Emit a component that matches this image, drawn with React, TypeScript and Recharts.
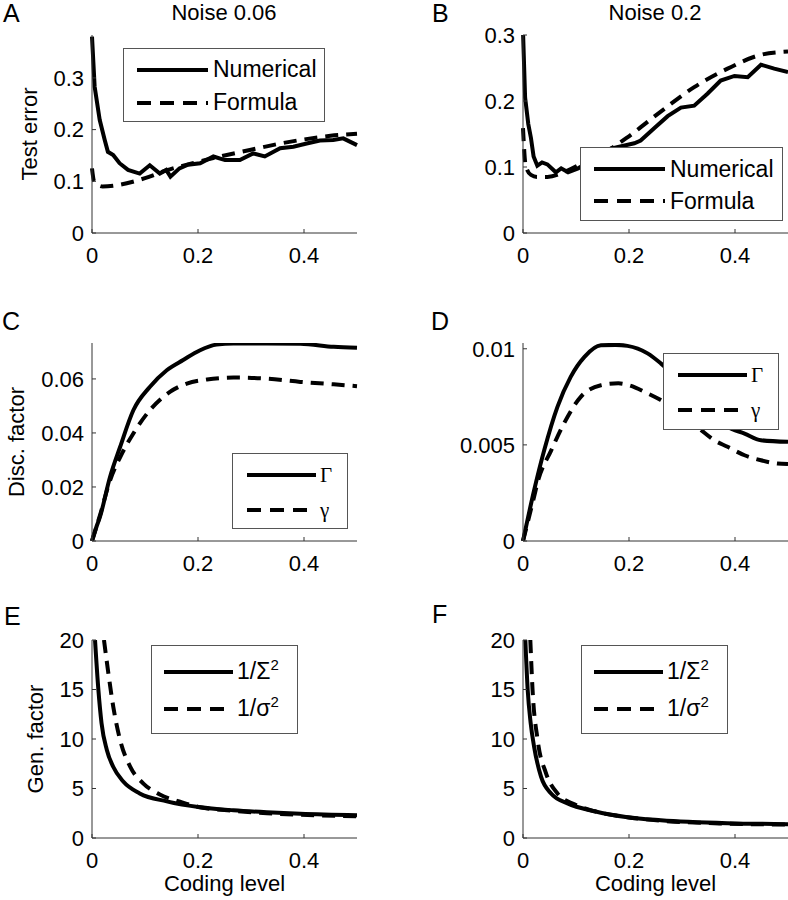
import React from 'react';
import { LineChart, Line, XAxis, YAxis, Legend, Label } from 'recharts';

const FONT = '"Liberation Sans", Arial, Helvetica, sans-serif';
const SERIF = '"Liberation Serif", "Times New Roman", serif';

// tick labels
const xTicks = [0, 0.2, 0.4];
const errTicks = [0, 0.1, 0.2, 0.3];
const discTicksC = [0, 0.02, 0.04, 0.06];
const discTicksD = [0, 0.005, 0.01];
const genTicks = [0, 5, 10, 15, 20];

// A: noise 0.06, test error
const aNumX = [0, 0.005, 0.0145, 0.024, 0.03, 0.04, 0.052, 0.068, 0.09, 0.109, 0.128, 0.14, 0.148, 0.165, 0.181, 0.204, 0.229, 0.251, 0.279, 0.304, 0.326, 0.355, 0.38, 0.405, 0.43, 0.455, 0.474, 0.5];
const aNumY = [0.38, 0.283, 0.219, 0.18, 0.157, 0.151, 0.135, 0.122, 0.115, 0.131, 0.115, 0.122, 0.109, 0.125, 0.132, 0.135, 0.148, 0.141, 0.141, 0.154, 0.148, 0.164, 0.167, 0.173, 0.179, 0.18, 0.183, 0.17];
const aForX = [0, 0.004, 0.02, 0.05, 0.08, 0.1, 0.14, 0.19, 0.25, 0.3, 0.35, 0.4, 0.45, 0.5];
const aForY = [0.125, 0.1, 0.09, 0.093, 0.1, 0.106, 0.121, 0.135, 0.15, 0.161, 0.172, 0.181, 0.188, 0.192];

// B: noise 0.2, test error
const bNumX = [0, 0.004, 0.01, 0.015, 0.02, 0.027, 0.036, 0.046, 0.062, 0.072, 0.085, 0.104, 0.13, 0.166, 0.21, 0.222, 0.248, 0.273, 0.298, 0.323, 0.348, 0.373, 0.399, 0.424, 0.449, 0.474, 0.5];
const bNumY = [0.306, 0.205, 0.165, 0.144, 0.116, 0.102, 0.107, 0.104, 0.092, 0.098, 0.092, 0.098, 0.11, 0.128, 0.136, 0.14, 0.159, 0.177, 0.19, 0.193, 0.211, 0.231, 0.238, 0.236, 0.255, 0.249, 0.244];
const bForX = [0, 0.005, 0.015, 0.027, 0.046, 0.085, 0.11, 0.166, 0.197, 0.26, 0.323, 0.386, 0.449, 0.5];
const bForY = [0.159, 0.102, 0.088, 0.085, 0.085, 0.095, 0.105, 0.128, 0.145, 0.184, 0.221, 0.249, 0.27, 0.275];

// C: discrimination factor, noise 0.06
const cBigX = [0, 0.008, 0.015, 0.034, 0.053, 0.078, 0.109, 0.141, 0.172, 0.204, 0.235, 0.267, 0.33, 0.393, 0.456, 0.5];
const cBigY = [0, 0.005, 0.0089, 0.0237, 0.0348, 0.0484, 0.057, 0.0632, 0.067, 0.0706, 0.0727, 0.0731, 0.0731, 0.073, 0.0719, 0.0715];
const cSmallX = [0, 0.015, 0.034, 0.053, 0.078, 0.109, 0.147, 0.179, 0.217, 0.267, 0.33, 0.393, 0.456, 0.5];
const cSmallY = [0, 0.0095, 0.0224, 0.031, 0.0398, 0.0484, 0.0552, 0.0583, 0.0598, 0.0605, 0.0601, 0.0589, 0.058, 0.0573];

// D: discrimination factor, noise 0.2
const dBigX = [0, 0.021, 0.04, 0.065, 0.09, 0.116, 0.147, 0.175, 0.197, 0.235, 0.26, 0.3, 0.34, 0.386, 0.418, 0.449, 0.5];
const dBigY = [0, 0.00264, 0.00472, 0.00698, 0.00854, 0.00958, 0.01018, 0.0102, 0.01015, 0.00976, 0.00924, 0.0082, 0.0071, 0.00594, 0.00559, 0.00524, 0.00516];
const dSmallX = [0, 0.02, 0.028, 0.053, 0.077, 0.109, 0.147, 0.18, 0.2, 0.235, 0.26, 0.3, 0.336, 0.361, 0.386, 0.418, 0.449, 0.48, 0.5];
const dSmallY = [0, 0.0022, 0.0031, 0.0047, 0.0061, 0.0075, 0.0081, 0.0082, 0.0081, 0.00768, 0.00733, 0.0066, 0.00577, 0.00524, 0.0049, 0.00446, 0.0042, 0.00403, 0.004];

// E: generalization factor, noise 0.06
const eBigX = [0.0057, 0.012, 0.018, 0.028, 0.04, 0.059, 0.09, 0.141, 0.204, 0.267, 0.33, 0.393, 0.5];
const eBigY = [20, 15, 11.6, 8.9, 7.2, 5.7, 4.5, 3.7, 3.1, 2.8, 2.6, 2.45, 2.3];
const eSmallX = [0.0226, 0.031, 0.04, 0.053, 0.072, 0.097, 0.128, 0.17, 0.204, 0.267, 0.33, 0.393, 0.5];
const eSmallY = [20, 16.6, 13.3, 9.9, 7.2, 5.5, 4.4, 3.6, 3.1, 2.75, 2.5, 2.35, 2.2];

// F: generalization factor, noise 0.2
const fBigX = [0.0044, 0.0088, 0.0145, 0.021, 0.034, 0.053, 0.084, 0.135, 0.197, 0.26, 0.386, 0.5];
const fBigY = [20, 15, 11.6, 9.2, 6.2, 4.5, 3.5, 2.7, 2.1, 1.8, 1.5, 1.4];
const fSmallX = [0.0138, 0.018, 0.0276, 0.043, 0.065, 0.097, 0.135, 0.197, 0.26, 0.386, 0.5];
const fSmallY = [20, 15, 9.9, 6.6, 4.5, 3.4, 2.7, 2.1, 1.75, 1.45, 1.35];

const zip = (xs: number[], ys: number[]) => xs.map((x, i) => ({ x, y: ys[i] }));

const sq = (s: string) => (
  <>
    {s}
    <span style={{ fontSize: 15, position: 'relative', top: -9 }}>2</span>
  </>
);
const greek = (s: string) => <span style={{ fontFamily: SERIF, fontSize: 21 }}>{s}</span>;

type Row = { label: React.ReactNode; dashed: boolean };

function LegendBox({ rows, padTop, rowH, padLeft, lineLen, gap }: any) {
  return (
    <div
      style={{
        boxSizing: 'border-box',
        border: '1px solid #555',
        background: '#fff',
        height: '100%',
        paddingTop: padTop,
        fontFamily: FONT,
        fontSize: 23,
        color: '#000',
      }}
    >
      {rows.map((r: Row, i: number) => (
        <div key={i} style={{ display: 'flex', alignItems: 'center', height: rowH, paddingLeft: padLeft }}>
          <svg width={lineLen} height={6} style={{ marginRight: gap, flex: 'none' }}>
            <line x1={0} y1={3} x2={lineLen} y2={3} stroke="#000" strokeWidth={4} strokeDasharray={r.dashed ? '14 9' : undefined} />
          </svg>
          <span style={{ lineHeight: 1, whiteSpace: 'nowrap' }}>{r.label}</span>
        </div>
      ))}
    </div>
  );
}

type Series = { data: { x: number; y: number }[]; dashed: boolean; smooth: boolean };

function Panel(p: any) {
  const tickStyle = { fontSize: 22, fontFamily: FONT, fill: '#000' };
  return (
    <div style={{ position: 'absolute', left: p.left, top: p.top }}>
      <LineChart width={394} height={p.height} margin={{ top: p.plotTop, right: p.right, bottom: 0, left: 0 }}>
        <XAxis
          dataKey="x"
          type="number"
          domain={[0, 0.5]}
          ticks={xTicks}
          interval={0}
          height={p.xHeight}
          tickSize={-4}
          tickMargin={18}
          tick={tickStyle}
          axisLine={{ stroke: '#333' }}
          tickLine={{ stroke: '#333' }}
        >
          {p.xlabel && (
            <Label value={p.xlabel} position="insideBottom" offset={9} style={{ fontSize: 22, fontFamily: FONT, fill: '#000' }} />
          )}
        </XAxis>
        <YAxis
          type="number"
          domain={p.yDomain}
          ticks={p.yTicks}
          interval={0}
          allowDataOverflow
          width={p.yWidth}
          tickSize={-4}
          tickMargin={12}
          tick={tickStyle}
          axisLine={{ stroke: '#333' }}
          tickLine={{ stroke: '#333' }}
        >
          {p.ylabel && (
            <Label
              value={p.ylabel}
              angle={-90}
              position="insideLeft"
              offset={p.ylabelX}
              style={{ textAnchor: 'middle', fontSize: 22, fontFamily: FONT, fill: '#000' }}
            />
          )}
        </YAxis>
        {p.series.map((s: Series, i: number) => (
          <Line
            key={i}
            data={s.data}
            dataKey="y"
            type={s.smooth ? 'monotone' : 'linear'}
            stroke="#000"
            strokeWidth={4}
            strokeDasharray={s.dashed ? '13 8' : undefined}
            dot={false}
            activeDot={false}
            isAnimationActive={false}
          />
        ))}
        <Legend
          layout="vertical"
          align="center"
          verticalAlign="middle"
          wrapperStyle={{ left: p.legend.left, top: p.legend.top, width: p.legend.width, height: p.legend.height }}
          content={() => <LegendBox {...p.legend} />}
        />
      </LineChart>
    </div>
  );
}

// text placed by its baseline; line-height 0.85 keeps the box inside the glyphs
function Txt({ x, base, size, children, center }: any) {
  return (
    <div
      style={{
        position: 'absolute',
        left: x,
        top: base - 0.7715 * size,
        fontSize: size,
        lineHeight: 0.85,
        fontFamily: FONT,
        whiteSpace: 'nowrap',
        transform: center ? 'translateX(-50%)' : undefined,
      }}
    >
      {children}
    </div>
  );
}

const errRows: Row[] = [
  { label: 'Numerical', dashed: false },
  { label: 'Formula', dashed: true },
];
const discRows: Row[] = [
  { label: greek('Γ'), dashed: false },
  { label: greek('γ'), dashed: true },
];
const genRows: Row[] = [
  { label: sq('1/Σ'), dashed: false },
  { label: sq('1/σ'), dashed: true },
];

export default function App() {
  const L = { left: 0, yWidth: 92, right: 37 };
  const R = { left: 394, yWidth: 129, right: 0 };
  const row1 = { top: 0, height: 290, plotTop: 35, xHeight: 57 };
  const row2 = { top: 290, height: 300, plotTop: 53, xHeight: 49 };
  const row3 = { top: 590, height: 310, plotTop: 50, xHeight: 62 };
  const lgErr = { rows: errRows, padTop: 4, rowH: 33, padLeft: 13, lineLen: 71, gap: 5 };
  const lgDisc = { rows: discRows, padTop: 3, rowH: 35, padLeft: 14, lineLen: 69, gap: 4 };
  const lgGen = { rows: genRows, padTop: 7, rowH: 37, padLeft: 12, lineLen: 69, gap: 4 };

  return (
    <div style={{ position: 'absolute', left: 0, top: 0, width: 788, height: 900, background: '#fff', overflow: 'hidden' }}>
      <Panel
        {...L}
        {...row1}
        yDomain={[0, 0.383]}
        yTicks={errTicks}
        ylabel="Test error"
        ylabelX={29}
        series={[
          { data: zip(aNumX, aNumY), dashed: false, smooth: false },
          { data: zip(aForX, aForY), dashed: true, smooth: true },
        ]}
        legend={{ ...lgErr, left: 123, top: 48, width: 202, height: 74 }}
      />
      <Panel
        {...R}
        {...row1}
        yDomain={[0, 0.3]}
        yTicks={errTicks}
        series={[
          { data: zip(bNumX, bNumY), dashed: false, smooth: false },
          { data: zip(bForX, bForY), dashed: true, smooth: true },
        ]}
        legend={{ ...lgErr, padTop: 5, rowH: 32, left: 186, top: 147, width: 203, height: 74 }}
      />
      <Panel
        {...L}
        {...row2}
        yDomain={[0, 0.0733]}
        yTicks={discTicksC}
        ylabel="Disc. factor"
        ylabelX={16}
        series={[
          { data: zip(cBigX, cBigY), dashed: false, smooth: true },
          { data: zip(cSmallX, cSmallY), dashed: true, smooth: true },
        ]}
        legend={{ ...lgDisc, left: 232, top: 163, width: 116, height: 76 }}
      />
      <Panel
        {...R}
        {...row2}
        yDomain={[0, 0.0103]}
        yTicks={discTicksD}
        series={[
          { data: zip(dBigX, dBigY), dashed: false, smooth: true },
          { data: zip(dSmallX, dSmallY), dashed: true, smooth: true },
        ]}
        legend={{ ...lgDisc, left: 269, top: 63, width: 116, height: 77 }}
      />
      <Panel
        {...L}
        {...row3}
        yDomain={[0, 20]}
        yTicks={genTicks}
        ylabel="Gen. factor"
        ylabelX={35}
        xlabel="Coding level"
        series={[
          { data: zip(eBigX, eBigY), dashed: false, smooth: true },
          { data: zip(eSmallX, eSmallY), dashed: true, smooth: true },
        ]}
        legend={{ ...lgGen, left: 151, top: 55, width: 147, height: 89 }}
      />
      <Panel
        {...R}
        {...row3}
        yDomain={[0, 20]}
        yTicks={genTicks}
        xlabel="Coding level"
        series={[
          { data: zip(fBigX, fBigY), dashed: false, smooth: true },
          { data: zip(fSmallX, fSmallY), dashed: true, smooth: true },
        ]}
        legend={{ ...lgGen, left: 187, top: 55, width: 147, height: 89 }}
      />

      <Txt x={3} base={22} size={25}>A</Txt>
      <Txt x={432} base={22} size={25}>B</Txt>
      <Txt x={2} base={330} size={25}>C</Txt>
      <Txt x={431} base={330} size={25}>D</Txt>
      <Txt x={4} base={625} size={25}>E</Txt>
      <Txt x={432} base={623} size={25}>F</Txt>
      <Txt x={224} base={20.5} size={22} center>Noise 0.06</Txt>
      <Txt x={655} base={20.5} size={22} center>Noise 0.2</Txt>
    </div>
  );
}
